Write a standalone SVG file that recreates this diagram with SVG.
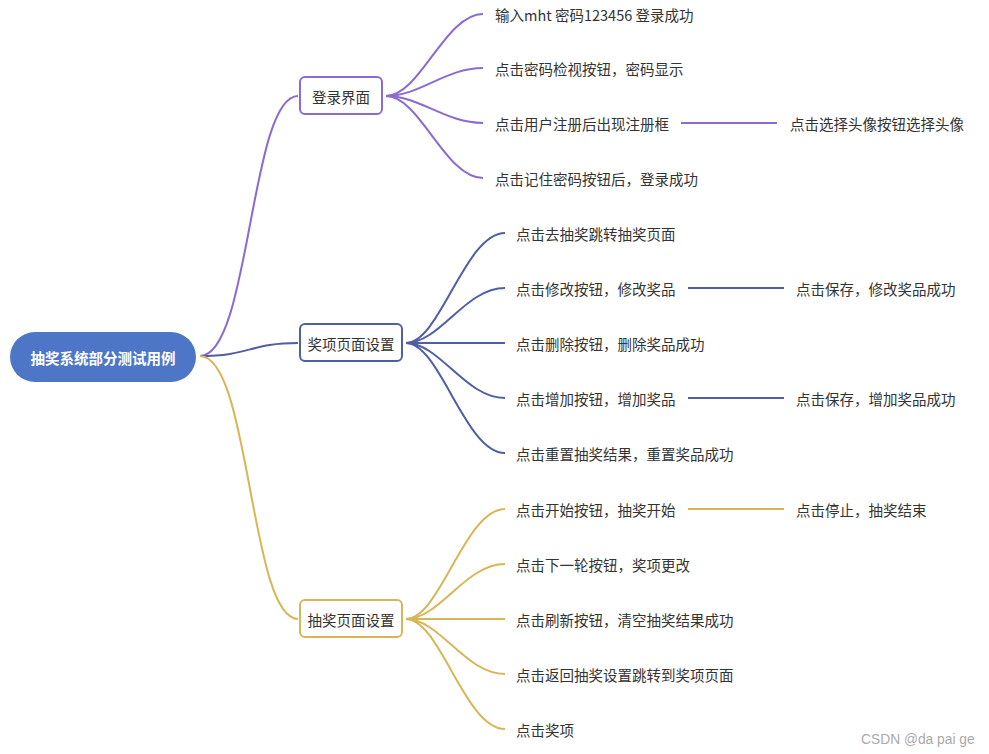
<svg xmlns="http://www.w3.org/2000/svg" width="989" height="754" viewBox="0 0 989 754">
<style>
text{font-family:"Noto Sans CJK SC","Noto Sans",sans-serif;font-size:14.5px;fill:#333;dominant-baseline:central}
.box{fill:#fff;stroke-width:2}
.c{fill:none;stroke-width:2}
.p{stroke:#8a6bd0}
.b{stroke:#4f5ea6}
.g{stroke:#d8b656}
.mid{text-anchor:middle}
</style>
<rect width="989" height="754" fill="#fff"/>
<g id="connectors">
<path class="c p" d="M200,356 C250,356 250,96 298,96"/>
<path class="c b" d="M200,356 C250,356 250,343 298,343"/>
<path class="c g" d="M200,356 C250,356 250,619 298,619"/>
<path class="c p" d="M386,96 C420,96 445,14 483,14"/>
<path class="c p" d="M386,96 C420,96 445,68 483,68"/>
<path class="c p" d="M386,96 C420,96 445,123 483,123"/>
<path class="c p" d="M386,96 C420,96 445,178 483,178"/>
<path class="c p" d="M681,123 H777"/>
<path class="c b" d="M406,343 C440,343 465,233 505,233"/>
<path class="c b" d="M406,343 C440,343 465,288 505,288"/>
<path class="c b" d="M406,343 H505"/>
<path class="c b" d="M406,343 C440,343 465,398 505,398"/>
<path class="c b" d="M406,343 C440,343 465,453 505,453"/>
<path class="c b" d="M688,288 H784"/>
<path class="c b" d="M688,398 H784"/>
<path class="c g" d="M406,619 C440,619 465,509 505,509"/>
<path class="c g" d="M406,619 C440,619 465,564 505,564"/>
<path class="c g" d="M406,619 H505"/>
<path class="c g" d="M406,619 C440,619 465,674 505,674"/>
<path class="c g" d="M406,619 C440,619 465,729 505,729"/>
<path class="c g" d="M688,509 H784"/>
</g>
<g id="root">
<rect x="10" y="332" width="186" height="50" rx="25" fill="#4e76c6"/>
<text x="103" y="357" class="mid" style="fill:#fff;font-weight:bold">抽奖系统部分测试用例</text>
</g>
<g id="login">
<rect class="box p" x="300" y="77" width="82" height="37" rx="5"/>
<text x="341" y="96" class="mid">登录界面</text>
</g>
<g id="prize">
<rect class="box b" x="300" y="324" width="102" height="37" rx="5"/>
<text x="351" y="343" class="mid">奖项页面设置</text>
</g>
<g id="draw">
<rect class="box g" x="300" y="600" width="102" height="37" rx="5"/>
<text x="351" y="619" class="mid">抽奖页面设置</text>
</g>
<g id="l1"><text x="495" y="14">输入mht 密码123456 登录成功</text></g>
<g id="l2"><text x="495" y="68">点击密码检视按钮，密码显示</text></g>
<g id="l3"><text x="495" y="123">点击用户注册后出现注册框</text></g>
<g id="l3a"><text x="790" y="123">点击选择头像按钮选择头像</text></g>
<g id="l4"><text x="495" y="178">点击记住密码按钮后，登录成功</text></g>
<g id="p1"><text x="516" y="233">点击去抽奖跳转抽奖页面</text></g>
<g id="p2"><text x="516" y="288">点击修改按钮，修改奖品</text></g>
<g id="p2a"><text x="796" y="288">点击保存，修改奖品成功</text></g>
<g id="p3"><text x="516" y="343">点击删除按钮，删除奖品成功</text></g>
<g id="p4"><text x="516" y="398">点击增加按钮，增加奖品</text></g>
<g id="p4a"><text x="796" y="398">点击保存，增加奖品成功</text></g>
<g id="p5"><text x="516" y="453">点击重置抽奖结果，重置奖品成功</text></g>
<g id="d1"><text x="516" y="509">点击开始按钮，抽奖开始</text></g>
<g id="d1a"><text x="796" y="509">点击停止，抽奖结束</text></g>
<g id="d2"><text x="516" y="564">点击下一轮按钮，奖项更改</text></g>
<g id="d3"><text x="516" y="619">点击刷新按钮，清空抽奖结果成功</text></g>
<g id="d4"><text x="516" y="674">点击返回抽奖设置跳转到奖项页面</text></g>
<g id="d5"><text x="516" y="729">点击奖项</text></g>
<text x="861" y="739" style="font-family:'Liberation Sans',sans-serif;font-size:13.8px;fill:#aaa">CSDN @da pai ge</text>
</svg>
